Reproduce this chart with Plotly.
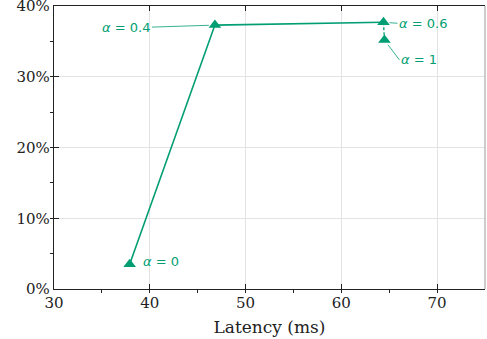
import plotly.graph_objects as go

labels = ["α = 0", "α = 0.4", "α = 0.6", "α = 1"]
latency_ms = [37.9, 46.8, 64.4, 64.5]
accuracy_pct = [3.5, 37.3, 37.7, 35.2]
x_ticks = [30, 40, 50, 60, 70]
y_ticks = [0, 10, 20, 30, 40]
y_tick_text = [f"{v}%" for v in y_ticks]

GREEN = "#029e73"
serif = "DejaVu Serif"
sans = "DejaVu Sans"

fig = go.Figure()
fig.add_trace(go.Scatter(x=latency_ms[:3], y=accuracy_pct[:3], mode="lines",
                         line=dict(color=GREEN, width=1.6), showlegend=False, hoverinfo="skip"))
fig.add_trace(go.Scatter(x=latency_ms[2:], y=accuracy_pct[2:], mode="lines",
                         line=dict(color=GREEN, width=1.3, dash="3px,2px"), showlegend=False, hoverinfo="skip"))
fig.add_trace(go.Scatter(x=latency_ms, y=accuracy_pct, mode="markers",
                         marker=dict(symbol="triangle-up", size=11, color=GREEN, line=dict(width=0)),
                         showlegend=False))
fig.add_trace(go.Scatter(x=[latency_ms[0]], y=[accuracy_pct[0]], xaxis="x2", mode="markers",
                         marker=dict(opacity=0), showlegend=False, hoverinfo="skip"))

def lab(s):
    return s.replace("α", "<i>α</i>")

ann_cfg = [
    dict(xanchor="left", showarrow=False, xshift=11, yshift=3),
    dict(ax=-63, ay=2, xanchor="right", showarrow=True),
    dict(ax=14, ay=1, xanchor="left", showarrow=True),
    dict(ax=15, ay=20, xanchor="left", showarrow=True),
]
for i, cfg in enumerate(ann_cfg):
    a = dict(x=latency_ms[i], y=accuracy_pct[i], text=lab(labels[i]),
             font=dict(family=sans, size=13, color=GREEN),
             arrowhead=0, arrowwidth=0.8, arrowcolor=GREEN, standoff=6,
             xanchor=cfg["xanchor"], yanchor="middle")
    if cfg["showarrow"]:
        a.update(showarrow=True, ax=cfg["ax"], ay=cfg["ay"], axref="pixel", ayref="pixel")
    else:
        a.update(showarrow=False, xshift=cfg["xshift"], yshift=cfg["yshift"])
    fig.add_annotation(**a)

fig.update_layout(
    width=487, height=339,
    margin=dict(l=54, r=2, t=6, b=50),
    paper_bgcolor="white", plot_bgcolor="white",
    font=dict(family=serif, size=15, color="#222"),
    xaxis=dict(range=[30, 75], tickvals=x_ticks, ticks="inside", ticklen=5, tickwidth=1,
               tickcolor="#222", showline=True, linecolor="#222", linewidth=1.3,
               showgrid=True, gridcolor="#e3e3e3", gridwidth=1, zeroline=False, automargin=False,
               ticklabeloverflow="allow",
               minor=dict(dtick=5, tick0=30, ticks="outside", ticklen=3, tickcolor="#222", showgrid=False),
               title=dict(text="Latency (ms)", font=dict(family=serif, size=17), standoff=9),
               tickfont=dict(family=serif, size=15)),
    xaxis2=dict(overlaying="x", side="top", matches="x", range=[30, 75], tickvals=x_ticks,
                ticks="inside", ticklen=5, tickcolor="#222", showticklabels=False, automargin=False,
                showgrid=False, showline=True, linecolor="#222", linewidth=1.3, zeroline=False),
    yaxis=dict(range=[0, 40], tickvals=y_ticks, ticktext=y_tick_text, ticks="inside", ticklen=5,
               tickcolor="#222", showline=True, linecolor="#222", linewidth=1.3, automargin=False,
               ticklabeloverflow="allow",
               showgrid=True, gridcolor="#e3e3e3", gridwidth=1, zeroline=False,
               minor=dict(dtick=5, tick0=0, ticks="outside", ticklen=3, tickcolor="#222", showgrid=False),
               tickfont=dict(family=serif, size=15)),
    shapes=[dict(type="line", xref="paper", yref="paper", x0=1, x1=1, y0=0, y1=1,
                 line=dict(color="#999", width=1))],
)

fig.write_html("out.html", config={"displayModeBar": False},
               post_script="document.body.style.margin='0';document.body.style.overflow='hidden';")
